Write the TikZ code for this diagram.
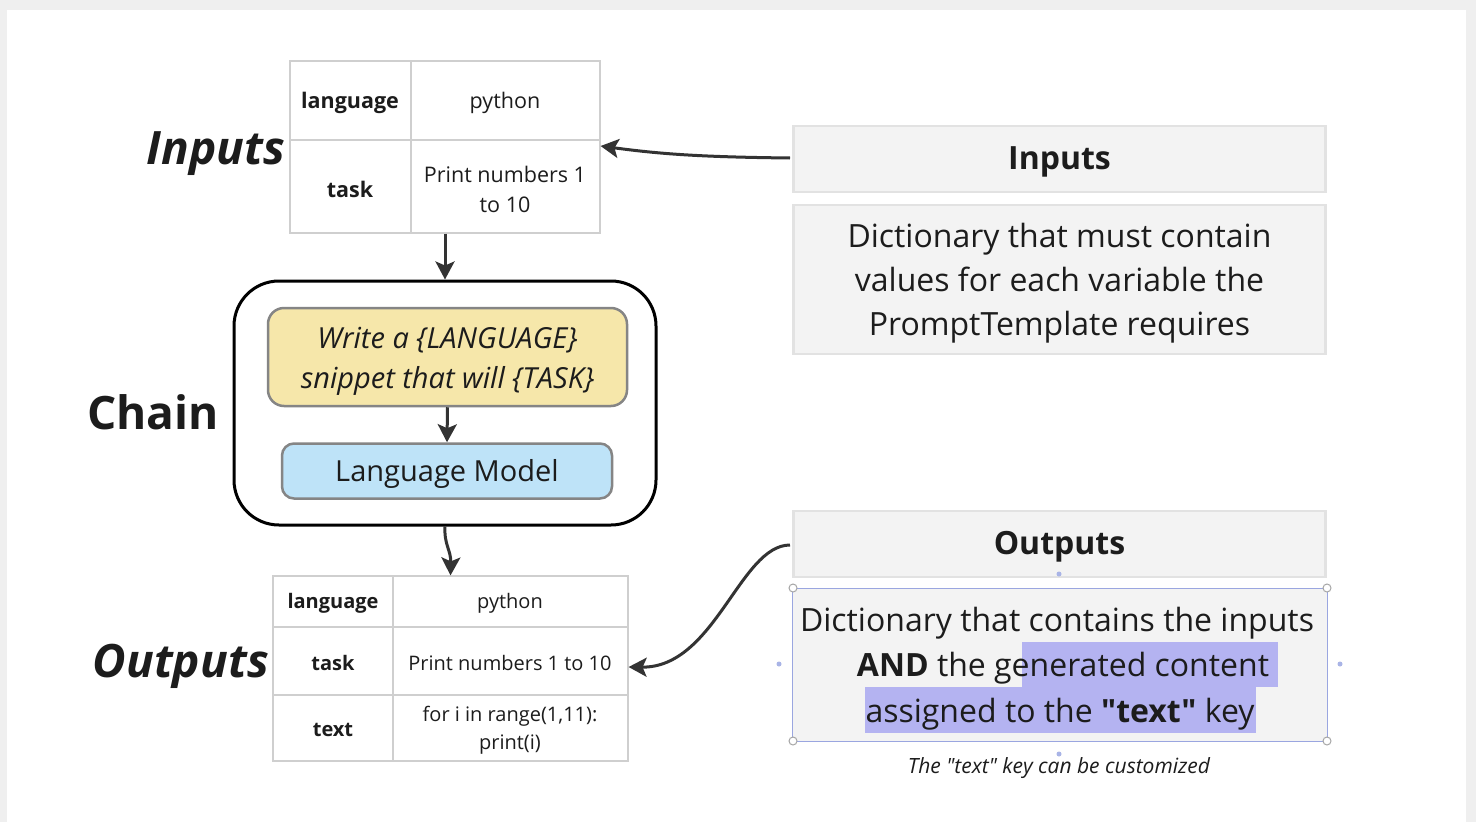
\documentclass[tikz,border=0pt]{standalone}
\usepackage{fontspec}
\setmainfont{Open Sans}[Ligatures=TeXOff]
\usetikzlibrary{arrows.meta}
\definecolor{ink}{HTML}{1C1C1C}
\definecolor{bggray}{HTML}{EFEFEF}
\definecolor{tblgray}{HTML}{CFCFCF}
\definecolor{arrowgray}{HTML}{333333}
\definecolor{boxfill}{HTML}{F3F3F3}
\definecolor{boxline}{HTML}{E2E2E2}
\definecolor{yellowfill}{HTML}{F6E7AA}
\definecolor{bluefill}{HTML}{BEE3F8}
\definecolor{innerline}{HTML}{858585}
\definecolor{selblue}{HTML}{9AA6E0}
\definecolor{hilite}{HTML}{B4B3F1}
\definecolor{dotblue}{HTML}{A9B4E6}
\begin{document}
\begin{tikzpicture}[x=1pt,y=-1pt,
  every node/.style={text=ink, inner sep=0pt},
  tblframe/.style={draw=tblgray, line width=1.2pt, rectangle},
  tblline/.style={draw=tblgray, line width=1.2pt},
  celltext/.style={font=\fontsize{21.5}{30}\selectfont, align=center},
  celltextsm/.style={font=\fontsize{20}{28}\selectfont, align=center},
  celllabel/.style={font=\fontsize{21.5}{30}\selectfont\bfseries},
  celllabelsm/.style={font=\fontsize{20}{28}\selectfont\bfseries},
  sidelabel/.style={font=\fontsize{46}{50}\selectfont\bfseries\itshape, anchor=east},
  conn/.style={draw=arrowgray, line width=3pt, -{Stealth[length=18pt,width=19pt,inset=4pt]}},
  graybox/.style={draw=boxline, line width=2.5pt, fill=boxfill, rectangle, minimum width=532pt},
  headtext/.style={font=\fontsize{32}{38}\selectfont\bfseries},
  bodytext/.style={font=\fontsize{32}{44}\selectfont, align=center},
  handle/.style={circle, draw=gray!70, fill=white, line width=1pt, minimum size=8pt},
  seldot/.style={circle, fill=dotblue, minimum size=5pt}
]
\useasboundingbox (0,0) rectangle (1476,822);
\fill[bggray] (0,0) rectangle (1476,822);
\fill[white] (7,10) rectangle (1466,822);

% ---------- Inputs table ----------
\node[tblframe, minimum width=310pt, minimum height=172pt] (tin) at (445,147) {};
\draw[tblline] (411,61) -- (411,233);
\draw[tblline] (290,140) -- (600,140);
\node[celllabel] (tinl1) at (350,103) {language};
\node[celltext] (tinv1) at (505,103) {python};
\node[celllabel] (tinl2) at (350,189) {task};
\node[celltext] (tinv2) at (505,189) {Print numbers 1\\to 10};
\node[sidelabel] (lin) at (285,154) {Inputs};

% ---------- Chain ----------
\node[draw=black, line width=3pt, rounded corners=45pt, minimum width=422pt, minimum height=244pt] (chain) at (445,403) {};
\node[sidelabel, font=\fontsize{46}{50}\selectfont\bfseries] (lchain) at (219,412) {Chain};
\node[draw=innerline, line width=2.5pt, fill=yellowfill, rounded corners=16pt, minimum width=359pt, minimum height=98pt] (prompt) at (447.5,357) {};
\node[font=\fontsize{29}{40}\selectfont\itshape, align=center] (prompttext) at (447.5,361) {Write a \{LANGUAGE\}\\snippet that will \{TASK\}};
\node[draw=innerline, line width=2.5pt, fill=bluefill, rounded corners=12pt, minimum width=330pt, minimum height=55pt] (model) at (447,471) {};
\node[font=\fontsize{29}{34}\selectfont] (modeltext) at (447,474) {Language Model};
\draw[conn] (prompt.south) -- (model.north);
\draw[conn] (tin.south) -- (chain.north);

% ---------- Outputs table ----------
\node[tblframe, minimum width=355pt, minimum height=185pt] (tout) at (450.5,668.5) {};
\draw[tblline] (393,576) -- (393,761);
\draw[tblline] (273,627) -- (628,627);
\draw[tblline] (273,695) -- (628,695);
\node[celllabelsm] (toutl1) at (333,603) {language};
\node[celltextsm] (toutv1) at (510,603) {python};
\node[celllabelsm] (toutl2) at (333,663) {task};
\node[celltextsm] (toutv2) at (510,663) {Print numbers 1 to 10};
\node[celllabelsm] (toutl3) at (333,730) {text};
\node[celltextsm] (toutv3) at (510,730) {for i in range(1,11):\\print(i)};
\node[sidelabel] (lout) at (269,666) {Outputs};
\draw[conn] (chain.south) .. controls (444,545) and (451,550) .. (tout.north);

% ---------- Right: Inputs ----------
\node[graybox, minimum height=66pt] (hin) at (1059.5,159) {};
\node[headtext] (hintext) at (1059.5,162) {Inputs};
\node[graybox, minimum height=149pt] (din) at (1059.5,279.5) {};
\node[bodytext] (dintext) at (1059.5,283) {Dictionary that must contain\\values for each variable the\\PromptTemplate requires};
\coordinate (hinw) at (790,158);
\draw[conn] (hinw) .. controls (700,157) and (660,154) .. (tin.east |- 0,146);

% ---------- Right: Outputs ----------
\node[graybox, minimum height=66pt] (hout) at (1059.5,544) {};
\node[headtext] (houttext) at (1059.5,547) {Outputs};
\node[draw=selblue, line width=1pt, fill=boxfill, minimum width=535pt, minimum height=153pt] (dout) at (1060,664.5) {};
\fill[hilite] (1022,642) rectangle (1278,687);
\fill[hilite] (865,687) rectangle (1256,733);
\node[font=\fontsize{32}{44}\selectfont] (doutl1) at (1057,623) {Dictionary that contains the inputs};
\node[font=\fontsize{32}{44}\selectfont] (doutl2) at (1063,668) {\textbf{AND} the generated content};
\node[font=\fontsize{32}{44}\selectfont] (doutl3) at (1060,714) {assigned to the \textbf{"text"} key};
\foreach \p/\n in {{(793,588)}/ha,{(1327,588)}/hb,{(793,741)}/hc,{(1327,741)}/hd} \node[handle] (\n) at \p {};
\foreach \p/\n in {{(1059,574)}/da,{(1059,754)}/db,{(779,664)}/dc,{(1340,664)}/dd} \node[seldot] (\n) at \p {};
\node[font=\fontsize{21}{26}\selectfont\itshape] (caption) at (1059,768) {The "text" key can be customized};
\coordinate (houtw) at (790,545);
\draw[conn] (houtw) .. controls (740,545) and (715,668) .. (tout.east |- 0,667);
\end{tikzpicture}
\end{document}
